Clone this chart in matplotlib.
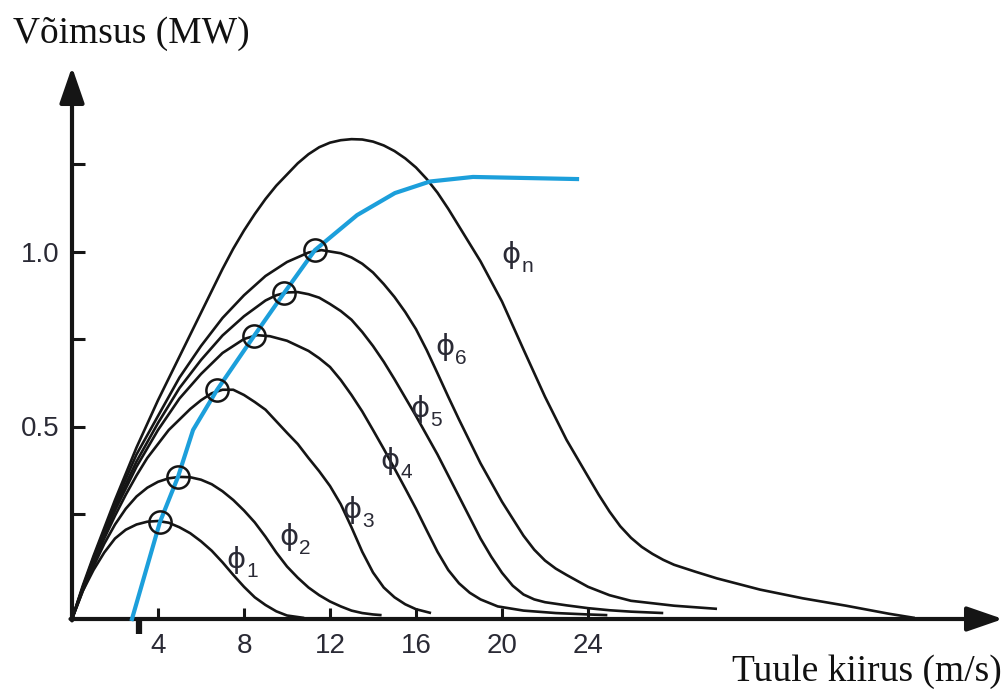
"""
Võimsuskõverad eri sammunurga (phi) korral.
"""

import matplotlib

matplotlib.use("Agg")

import matplotlib.pyplot as plt

# --------------------------------------------------------------------------
# data (tuule kiirus m/s, võimsus MW)

c1_x = [0, 0.5, 1, 1.5, 2, 2.5, 3, 3.5, 4, 4.5, 5, 5.5, 6, 6.5, 7, 7.5,
        8, 8.5, 9, 9.5, 10, 10.8]
c1_y = [-0.05, 0.03, 0.09, 0.14, 0.18, 0.205, 0.22, 0.228, 0.23, 0.225,
        0.212, 0.195, 0.172, 0.145, 0.112, 0.076, 0.042, 0.012, -0.01,
        -0.028, -0.04, -0.047]

c2_x = [0, 0.5, 1, 1.5, 2, 2.5, 3, 3.5, 4, 4.5, 5, 5.5, 6, 6.5, 7, 7.5,
        8, 8.5, 9, 9.5, 10, 10.5, 11, 11.5, 12, 12.5, 13, 13.5, 14, 14.4]
c2_y = [-0.05, 0.03, 0.10, 0.165, 0.22, 0.265, 0.30, 0.325, 0.342, 0.352,
        0.356, 0.355, 0.348, 0.335, 0.315, 0.29, 0.26, 0.226, 0.185, 0.14,
        0.10, 0.068, 0.04, 0.018, 0.0, -0.014, -0.026, -0.033, -0.037,
        -0.039]

c3_x = [0, 0.5, 1, 1.5, 2, 2.5, 3, 3.5, 4, 4.5, 5, 5.5, 6, 6.5, 7, 7.5,
        8, 8.5, 9, 9.5, 10, 10.5, 11, 11.5, 12, 12.5, 13, 13.5, 14, 14.5,
        15, 15.5, 16, 16.7]
c3_y = [-0.05, 0.035, 0.11, 0.18, 0.245, 0.305, 0.36, 0.41, 0.45, 0.49,
        0.52, 0.55, 0.575, 0.595, 0.605, 0.605, 0.59, 0.57, 0.548, 0.515,
        0.482, 0.45, 0.41, 0.372, 0.33, 0.278, 0.212, 0.142, 0.083, 0.04,
        0.012, -0.008, -0.022, -0.033]

c4_x = [0, 0.5, 1, 2, 3, 4, 5, 6, 7, 8, 8.6, 9.2, 10, 11, 11.5, 12, 12.5,
        13, 13.5, 14, 14.5, 15, 15.5, 16, 16.5, 17, 17.5, 18, 18.5, 19,
        19.8, 21, 22.5, 24, 24.9]
c4_y = [-0.05, 0.04, 0.115, 0.26, 0.385, 0.49, 0.58, 0.65, 0.71, 0.75,
        0.761, 0.758, 0.745, 0.716, 0.695, 0.67, 0.633, 0.59, 0.543, 0.49,
        0.436, 0.38, 0.323, 0.265, 0.203, 0.142, 0.09, 0.052, 0.025, 0.006,
        -0.014, -0.026, -0.033, -0.037, -0.039]

c5_x = [0, 0.5, 1, 2, 3, 4, 5, 6, 7, 8, 9, 9.5, 10, 10.5, 11, 11.5, 12,
        12.5, 13, 13.5, 14, 14.5, 15, 16, 17, 18, 19, 19.5, 20, 20.5, 21,
        21.5, 22, 23, 24, 25, 26, 27.5]
c5_y = [-0.05, 0.04, 0.12, 0.27, 0.40, 0.51, 0.61, 0.69, 0.76, 0.815,
        0.86, 0.875, 0.883, 0.884, 0.878, 0.868, 0.85, 0.83, 0.805, 0.77,
        0.73, 0.685, 0.635, 0.53, 0.42, 0.30, 0.18, 0.128, 0.082, 0.045,
        0.02, 0.006, -0.002, -0.011, -0.019, -0.025, -0.029, -0.033]

c6_x = [0, 0.5, 1, 2, 3, 4, 5, 6, 7, 8, 9, 10, 11, 11.6, 12.5, 13, 13.5,
        14, 14.5, 15, 15.5, 16, 16.5, 17, 17.5, 18, 19, 20, 21, 21.5, 22,
        22.5, 23, 24, 25, 26, 28, 30]
c6_y = [-0.05, 0.04, 0.125, 0.28, 0.42, 0.53, 0.64, 0.73, 0.81, 0.875,
        0.93, 0.97, 0.997, 1.004, 0.995, 0.983, 0.965, 0.94, 0.907, 0.87,
        0.827, 0.778, 0.718, 0.652, 0.585, 0.52, 0.395, 0.285, 0.188,
        0.148, 0.117, 0.094, 0.076, 0.042, 0.018, 0.002, -0.012, -0.021]

cn_x = [0, 0.5, 1, 2, 3, 4, 5, 6, 7, 7.5, 8, 8.5, 9, 9.5, 10, 10.5, 11,
        11.5, 12, 12.5, 13, 13.5, 14, 14.5, 15, 15.5, 16, 16.5, 17, 17.5,
        18, 18.5, 19, 20, 21, 22, 23, 24, 24.5, 25, 25.5, 26, 26.5, 27,
        27.5, 28, 29, 30, 32, 34, 36, 38, 39.2]
cn_y = [-0.05, 0.045, 0.13, 0.29, 0.44, 0.575, 0.70, 0.825, 0.95, 1.008,
        1.06, 1.107, 1.15, 1.188, 1.22, 1.252, 1.278, 1.298, 1.311, 1.318,
        1.321, 1.32, 1.314, 1.303, 1.287, 1.266, 1.24, 1.207, 1.168, 1.122,
        1.072, 1.022, 0.972, 0.857, 0.72, 0.585, 0.462, 0.357, 0.305,
        0.257, 0.215, 0.182, 0.156, 0.136, 0.119, 0.105, 0.085, 0.066,
        0.034, 0.009, -0.012, -0.035, -0.047]

# optimaalse töö kõver (sinine)
opt_x = [2.79, 4.09, 4.93, 5.63, 6.74, 8.47, 9.86, 11.30, 13.26, 15.02,
         16.65, 18.65, 23.49]
opt_y = [-0.05, 0.227, 0.356, 0.49, 0.604, 0.759, 0.881, 1.004, 1.104,
         1.167, 1.20, 1.213, 1.207]

# ringid kõverate tippudel
peak_x = [4.09, 4.93, 6.74, 8.47, 9.86, 11.30]
peak_y = [0.227, 0.356, 0.604, 0.759, 0.881, 1.004]

# phi sildid
label_idx = ["1", "2", "3", "4", "5", "6", "n"]
label_x = [7.63, 10.09, 13.02, 14.79, 16.19, 17.35, 20.42]
label_y = [0.119, 0.184, 0.261, 0.401, 0.55, 0.727, 0.99]

x_ticks = [4, 8, 12, 16, 20, 24]
y_ticks = [0.25, 0.5, 0.75, 1.0, 1.25]
y_tick_labels = ["", "0.5", "", "1.0", ""]

cut_in = 3.12

###########################################################################

AXIS_Y = -0.05
INK = "#151515"
TEXT = "#2a2a35"
BLUE = "#1c9fdb"


def main():

    fig = plt.figure(figsize=(10.08, 6.91), dpi=100)
    ax = fig.add_axes([0, 0, 1, 1])

    # 21.5 px per m/s, 350 px per MW
    ax.set_xlim(-72 / 21.5, (1008 - 72) / 21.5)
    ax.set_ylim((601.5 - 691) / 350, 601.5 / 350)

    curves = [
        (c1_x, c1_y),
        (c2_x, c2_y),
        (c3_x, c3_y),
        (c4_x, c4_y),
        (c5_x, c5_y),
        (c6_x, c6_y),
        (cn_x, cn_y),
    ]

    for xs, ys in curves:
        ax.plot(xs, ys, color=INK, linewidth=1.9, zorder=3,
                solid_capstyle="butt", solid_joinstyle="round")

    ax.plot(opt_x, opt_y, color=BLUE, linewidth=3.0, zorder=4,
            solid_joinstyle="round")

    ax.plot(peak_x, peak_y, linestyle="none", marker="o", markersize=16,
            markerfacecolor="none", markeredgecolor=INK,
            markeredgewidth=1.8, zorder=5)

    for idx, lx, ly in zip(label_idx, label_x, label_y):
        ax.text(lx, ly, "ϕ", fontsize=21, color=TEXT,
                family=["DejaVu Sans"],
                ha="center", va="center", zorder=6)
        ax.annotate(idx, (lx, ly), xytext=(11.5, -8.5),
                    textcoords="offset points", fontsize=15, color=TEXT,
                    family=["Liberation Sans", "DejaVu Sans"],
                    ha="center", va="center", zorder=6)

    # axes with arrow heads
    arrow = dict(arrowstyle="-|>,head_length=1.1,head_width=0.38",
                 color=INK, linewidth=3, mutation_scale=20,
                 shrinkA=0, shrinkB=0)
    ax.annotate("", xy=((1003 - 72) / 21.5, AXIS_Y), xytext=(-0.07, AXIS_Y),
                arrowprops=arrow, zorder=2)
    ax.annotate("", xy=(0, (601.5 - 67) / 350), xytext=(0, AXIS_Y - 0.004),
                arrowprops=arrow, zorder=2)

    ax.plot([cut_in, cut_in], [AXIS_Y, AXIS_Y - 0.042], color=INK,
            linewidth=4.5, solid_capstyle="butt", zorder=2)

    for side in ax.spines.values():
        side.set_visible(False)
    ax.spines["bottom"].set_position(("data", AXIS_Y))
    ax.spines["left"].set_position(("data", 0))

    ax.set_xticks(x_ticks)
    ax.set_xticklabels([str(t) for t in x_ticks])
    ax.set_yticks(y_ticks)
    ax.set_yticklabels(y_tick_labels)

    ax.tick_params(axis="x", direction="in", length=8, width=2.2,
                   color=INK, pad=10, labelsize=20, labelcolor=TEXT)
    ax.tick_params(axis="y", direction="in", length=9, width=2.2,
                   color=INK, pad=9, labelsize=20, labelcolor=TEXT)
    for lab in ax.get_xticklabels() + ax.get_yticklabels():
        lab.set_family("Liberation Sans")

    fig.text(13 / 1008, 1 - 43 / 691, "Võimsus (MW)",
             family="Liberation Serif", fontsize=27, color="#111111",
             ha="left", va="baseline")
    fig.text(1002 / 1008, 1 - 681 / 691, "Tuule kiirus (m/s)",
             family="Liberation Serif", fontsize=27, color="#111111",
             ha="right", va="baseline")

    fig.savefig("out.png", dpi=100)
    plt.close(fig)


if __name__ == "__main__":
    main()
